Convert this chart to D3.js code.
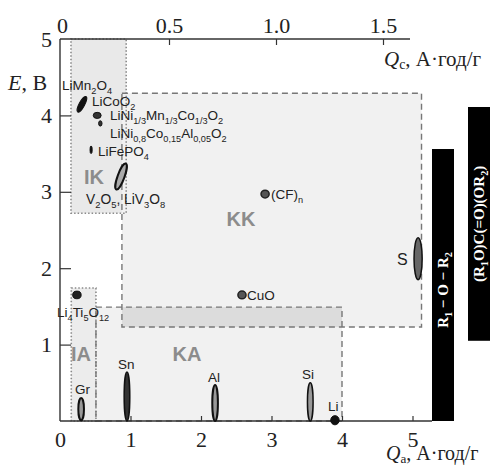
<!DOCTYPE html>
<html><head><meta charset="utf-8">
<script src="https://cdn.jsdelivr.net/npm/d3@7"></script>
<style>
html,body{margin:0;padding:0;background:#fff;}
svg{display:block;}
</style></head>
<body>
<svg id="chart" width="496" height="467"></svg>
<script>
// ---------------- DATA ----------------
const eTicks = [1, 2, 3, 4, 5];
const qaTicks = [0, 1, 2, 3, 4, 5];
const qcTicks = [0, 0.5, 1.0, 1.5];

// cathode materials: capacity Qc (A·h/g) range and potential E (V) range
const cathodes = [
  {name: "LiMn2O4", label: "LiMn_{2}O_{4}", qc: [0.080, 0.106], e: [4.03, 4.26]},
  {name: "LiCoO2", label: "LiCoO_{2}", qc: [0.146, 0.183], e: [3.96, 4.04]},
  {name: "NMC", label: "LiNi_{1/3}Mn_{1/3}Co_{1/3}O_{2}", qc: [0.171, 0.187], e: [3.86, 3.93]},
  {name: "NCA", label: "LiNi_{0,8}Co_{0,15}Al_{0,05}O_{2}", qc: null, e: null},
  {name: "LiFePO4", label: "LiFePO_{4}", qc: [0.131, 0.141], e: [3.5, 3.6]},
  {name: "V2O5", label: "V_{2}O_{5}, LiV_{3}O_{8}", qc: [0.260, 0.292], e: [3.02, 3.38]},
  {name: "CFn", label: "(CF)_{n}", qc: [0.930, 0.968], e: [2.92, 3.02]},
  {name: "CuO", label: "CuO", qc: [0.822, 0.860], e: [1.60, 1.70]},
  {name: "S", label: "S", qc: [1.645, 1.683], e: [1.85, 2.40]}
];

// anode materials: capacity Qa (A·h/g) range and potential E (V) range
const anodes = [
  {name: "LTO", label: "Li_{4}Ti_{5}O_{12}", qa: [0.18, 0.30], e: [1.60, 1.70]},
  {name: "Gr", label: "Gr", qa: [0.26, 0.34], e: [0.01, 0.30]},
  {name: "Sn", label: "Sn", qa: [0.91, 0.99], e: [0.0, 0.64]},
  {name: "Al", label: "Al", qa: [2.16, 2.24], e: [0.0, 0.47]},
  {name: "Si", label: "Si", qa: [3.51, 3.59], e: [0.0, 0.50]},
  {name: "Li", label: "Li", qa: [3.84, 3.96], e: [-0.05, 0.07]}
];

// regions (IK = intercalation cathodes, KK = conversion cathodes, IA, KA)
const regions = [
  {name: "IK", axis: "c", q: [0.042, 0.30], e: [2.72, 5.0], line: "dot"},
  {name: "KK", axis: "c", q: [0.28, 1.68], e: [1.23, 4.29], line: "dash"},
  {name: "IA", axis: "a", q: [0.16, 0.51], e: [0.0, 1.74], line: "dot"},
  {name: "KA", axis: "a", q: [0.51, 4.0], e: [0.0, 1.49], line: "dash"}
];

// electrolyte stability windows
const electrolytes = [
  {label: "R_{1} − O − R_{2}", e: [0.0, 3.56]},
  {label: "(R_{1}O)C(=O)(OR_{2})", e: [1.05, 4.11]}
];

// ---------------- STYLE / LAYOUT ----------------
const svg = d3.select("#chart");
const Y = d3.scaleLinear().domain([0, 5]).range([421, 39]);
const XA = d3.scaleLinear().domain([0, 5]).range([60, 412.5]);
const XC = d3.scaleLinear().domain([0, 1.5]).range([62, 383]);
const serif = "'Liberation Serif','Times New Roman',serif";
const sans = "'Liberation Sans',Arial,sans-serif";

const markStyle = {
  LiMn2O4: {fill: "#111", stroke: "#111", sw: 1, rot: 28},
  LiCoO2: {fill: "#333", stroke: "#111", sw: 1, rot: 0},
  NMC: {fill: "#333", stroke: "#111", sw: 1, rot: 0},
  LiFePO4: {fill: "#111", stroke: "#111", sw: 1, rot: 0},
  V2O5: {fill: "#aaa", stroke: "#111", sw: 2, rot: 20},
  CFn: {fill: "#555", stroke: "#222", sw: 1.5, rot: 0},
  CuO: {fill: "#555", stroke: "#222", sw: 1.5, rot: 0},
  S: {fill: "#666", stroke: "#111", sw: 1.5, rot: 0},
  LTO: {fill: "#222", stroke: "#111", sw: 1, rot: 0},
  Gr: {fill: "#999", stroke: "#111", sw: 2, rot: 0},
  Sn: {fill: "#333", stroke: "#111", sw: 1.5, rot: 0},
  Al: {fill: "#999", stroke: "#111", sw: 2, rot: 0},
  Si: {fill: "#999", stroke: "#111", sw: 1.5, rot: 0},
  Li: {fill: "#111", stroke: "#111", sw: 1, rot: 0}
};
const labelPos = {
  LiMn2O4: [62, 90, 13.5], LiCoO2: [92, 106, 13.5], NMC: [110, 120, 13.5], NCA: [110, 138, 13.5],
  LiFePO4: [98, 156, 13.5], V2O5: [86, 204, 13.8], CFn: [271, 199, 13.5], CuO: [247, 300, 13.5],
  S: [397, 265, 16], LTO: [57, 317, 13.5], Gr: [75, 394, 13.5], Sn: [118, 369, 13.5],
  Al: [208, 382, 13.5], Si: [302, 379, 13.5], Li: [328, 411, 13.5]
};
const regionLabelPos = {IK: [94, 184], KK: [241, 226], IA: [81, 361], KA: [187, 361]};
const barX = [[432, 454], [468, 490]];

// helper to write text with _{sub} into tspans
function richText(sel, str, size) {
  const parts = str.split(/(_\{[^}]*\})/).filter(s => s.length);
  let sub = false;
  parts.forEach(p => {
    if (p.startsWith("_{")) {
      sel.append("tspan").attr("font-size", size * 0.68).attr("dy", size * 0.28).text(p.slice(2, -1));
      sub = true;
    } else {
      const t = sel.append("tspan").text(p);
      if (sub) { t.attr("dy", -size * 0.28); sub = false; }
    }
  });
}

// ---------------- REGIONS ----------------
const rectOf = r => {
  const X = r.axis === "c" ? XC : XA;
  return {x0: X(r.q[0]), x1: X(r.q[1]), y0: Y(r.e[1]), y1: Y(r.e[0])};
};
const fills = {IK: "#e9e9e9", KK: "#f1f1f1", IA: "#ececec", KA: "#f1f1f1"};
const gReg = svg.append("g");
regions.forEach(r => {
  const b = rectOf(r);
  gReg.append("rect").attr("x", b.x0).attr("y", b.y0).attr("width", b.x1 - b.x0).attr("height", b.y1 - b.y0)
    .attr("fill", fills[r.name]);
});
// overlap of KK and KA
{
  const kk = rectOf(regions[1]), ka = rectOf(regions[3]);
  const x0 = Math.max(kk.x0, ka.x0), x1 = Math.min(kk.x1, ka.x1);
  const y0 = Math.max(kk.y0, ka.y0), y1 = Math.min(kk.y1, ka.y1);
  gReg.append("rect").attr("x", x0).attr("y", y0).attr("width", x1 - x0).attr("height", y1 - y0).attr("fill", "#dcdcdc");
}
regions.forEach(r => {
  const b = rectOf(r);
  gReg.append("rect").attr("x", b.x0).attr("y", b.y0).attr("width", b.x1 - b.x0).attr("height", b.y1 - b.y0)
    .attr("fill", "none").attr("stroke", r.line === "dot" ? "#8a8a8a" : "#777")
    .attr("stroke-width", r.line === "dot" ? 1.6 : 1.4)
    .attr("stroke-dasharray", r.line === "dot" ? "1.5,2" : "6,4");
  const lp = regionLabelPos[r.name];
  gReg.append("text").attr("x", lp[0]).attr("y", lp[1]).attr("text-anchor", "middle")
    .attr("font-family", sans).attr("font-weight", "bold").attr("font-size", 20)
    .attr("fill", "#8c8c8c").text(r.name);
});

// ---------------- AXES ----------------
const axisColor = "#333";
const gLeft = svg.append("g").attr("transform", "translate(60,0)")
  .call(d3.axisLeft(Y).tickValues(eTicks).tickSizeInner(-11).tickSizeOuter(0).tickPadding(8).tickFormat(d3.format("d")));
const gBottom = svg.append("g").attr("transform", "translate(0,421)")
  .call(d3.axisBottom(XA).tickValues(qaTicks).tickSizeInner(-5).tickSizeOuter(0).tickPadding(10).tickFormat(d3.format("d")));
const gTop = svg.append("g").attr("transform", "translate(0,39)")
  .call(d3.axisTop(XC).tickValues(qcTicks).tickSizeInner(-6).tickSizeOuter(0).tickPadding(6)
    .tickFormat(d => d === 0 ? "0" : d3.format(".1f")(d)));
[gLeft, gBottom, gTop].forEach(g => {
  g.select(".domain").remove();
  g.selectAll(".tick line").attr("stroke", axisColor).attr("stroke-width", 1.2);
  g.selectAll(".tick text").attr("font-family", serif).attr("font-size", 22).attr("fill", "#222");
});
gBottom.selectAll(".tick").filter(d => d === 0).select("line").remove();
gTop.selectAll(".tick").filter(d => d === 0).select("line").remove();
gLeft.selectAll(".tick").filter(d => d === 5).select("line").remove();

svg.append("line").attr("x1", 60).attr("x2", 60).attr("y1", Y(5)).attr("y2", Y(0)).attr("stroke", axisColor).attr("stroke-width", 1.4);
svg.append("line").attr("x1", 60).attr("x2", barX[0][0]).attr("y1", Y(0)).attr("y2", Y(0)).attr("stroke", axisColor).attr("stroke-width", 1.4);
svg.append("line").attr("x1", 60).attr("x2", 410).attr("y1", Y(5)).attr("y2", Y(5)).attr("stroke", axisColor).attr("stroke-width", 1.4);

// axis titles
const eT = svg.append("text").attr("x", 8).attr("y", 90).attr("font-family", serif).attr("font-size", 22).attr("fill", "#222");
eT.append("tspan").attr("font-style", "italic").text("E");
eT.append("tspan").text(", В");
function qTitle(x, y, sub, size) {
  const t = svg.append("text").attr("x", x).attr("y", y).attr("font-family", serif).attr("font-size", size).attr("fill", "#222");
  t.append("tspan").attr("font-style", "italic").text("Q");
  t.append("tspan").attr("font-size", size * 0.66).attr("dy", 3).text(sub);
  t.append("tspan").attr("dy", -3).text(", А·год/г");
}
qTitle(384, 66, "c", 21);
qTitle(386, 460, "а", 20);

// ---------------- MARKS ----------------
const gMarks = svg.append("g");
function drawEllipse(d, X, q) {
  if (!q || !d.e) return;
  const st = markStyle[d.name];
  const cx = X((q[0] + q[1]) / 2), cy = Y((d.e[0] + d.e[1]) / 2);
  const rx = Math.abs(X(q[1]) - X(q[0])) / 2, ry = Math.abs(Y(d.e[1]) - Y(d.e[0])) / 2;
  gMarks.append("ellipse").attr("cx", cx).attr("cy", cy).attr("rx", rx).attr("ry", ry)
    .attr("transform", `rotate(${st.rot},${cx},${cy})`)
    .attr("fill", st.fill).attr("stroke", st.stroke).attr("stroke-width", st.sw);
}
cathodes.forEach(d => drawEllipse(d, XC, d.qc));
anodes.forEach(d => drawEllipse(d, XA, d.qa));

const gLab = svg.append("g");
[...cathodes, ...anodes].forEach(d => {
  const p = labelPos[d.name];
  const t = gLab.append("text").attr("x", p[0]).attr("y", p[1]).attr("font-family", sans)
    .attr("font-size", p[2]).attr("fill", "#222");
  richText(t, d.label, p[2]);
});

// ---------------- ELECTROLYTE BARS ----------------
electrolytes.forEach((d, i) => {
  const [x0, x1] = barX[i];
  const y0 = Y(d.e[1]), y1 = Y(d.e[0]);
  svg.append("rect").attr("x", x0).attr("y", y0).attr("width", x1 - x0).attr("height", y1 - y0).attr("fill", "#000");
  const cx = (x0 + x1) / 2;
  const cy = i === 0 ? 290 : (y0 + y1) / 2;
  const t = svg.append("text").attr("transform", `translate(${cx + 5},${cy}) rotate(-90)`)
    .attr("text-anchor", "middle").attr("font-family", serif).attr("font-weight", "bold")
    .attr("font-size", 15).attr("fill", "#fff");
  richText(t, d.label, 15);
});
</script>
</body></html>
